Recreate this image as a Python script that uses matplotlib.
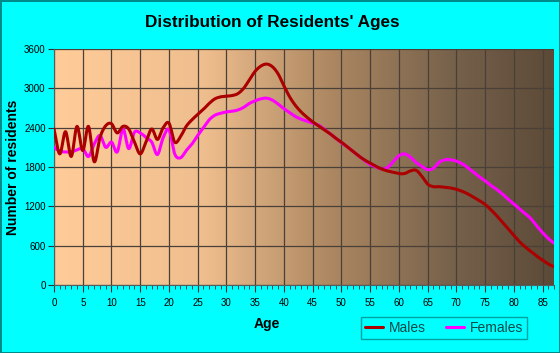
import numpy as np
import matplotlib
matplotlib.use("Agg")
import matplotlib.pyplot as plt
from matplotlib.colors import LinearSegmentedColormap

plt.rcParams["font.family"] = ["Liberation Sans", "DejaVu Sans"]

ages = list(range(0, 88))

males = [2380, 2000, 2340, 1960, 2420, 2050, 2420, 1880, 2250, 2430,
         2460, 2320, 2420, 2380, 2180, 2000, 2180, 2380, 2220, 2400,
         2470, 2180, 2260, 2420, 2520, 2600, 2680, 2770, 2840, 2870,
         2880, 2890, 2920, 3000, 3130, 3260, 3340, 3370, 3330, 3220,
         3040, 2870, 2740, 2640, 2560, 2490, 2430, 2370, 2310, 2240,
         2180, 2110, 2040, 1970, 1910, 1860, 1810, 1770, 1740, 1720,
         1700, 1700, 1740, 1750, 1660, 1540, 1500, 1500, 1490, 1480,
         1460, 1430, 1390, 1340, 1290, 1230, 1150, 1060, 960, 860,
         760, 660, 580, 510, 440, 380, 320, 280]

females = [2100, 2040, 2030, 2030, 2060, 2080, 1960, 2150, 2280, 2100,
           2180, 2030, 2380, 2080, 2330, 2320, 2250, 2180, 1990, 2250,
           2370, 2000, 1940, 2050, 2150, 2280, 2400, 2520, 2590, 2620,
           2640, 2650, 2670, 2710, 2770, 2810, 2840, 2850, 2820, 2760,
           2690, 2630, 2570, 2530, 2500, 2470, 2440, 2380, 2310, 2240,
           2170, 2110, 2040, 1970, 1900, 1840, 1800, 1770, 1790, 1880,
           1970, 2000, 1950, 1870, 1810, 1760, 1780, 1870, 1910, 1910,
           1890, 1850, 1790, 1720, 1650, 1590, 1520, 1460, 1390, 1310,
           1240, 1160, 1090, 1010, 900, 800, 710, 640]

y_ticks = [0, 600, 1200, 1800, 2400, 3000, 3600]
x_ticks = list(range(0, 90, 5))


def smooth(x, y, n=12):
    # catmull-rom curve through the points, for drawing only
    x = np.asarray(x, float)
    y = np.asarray(y, float)
    px = np.concatenate([[2 * x[0] - x[1]], x, [2 * x[-1] - x[-2]]])
    py = np.concatenate([[2 * y[0] - y[1]], y, [2 * y[-1] - y[-2]]])
    t = np.linspace(0, 1, n, endpoint=False)
    xs, ys = [], []
    for i in range(1, len(px) - 2):
        for p, out in ((px, xs), (py, ys)):
            p0, p1, p2, p3 = p[i - 1], p[i], p[i + 1], p[i + 2]
            out.append(0.5 * (2 * p1 + (-p0 + p2) * t
                              + (2 * p0 - 5 * p1 + 4 * p2 - p3) * t ** 2
                              + (-p0 + 3 * p1 - 3 * p2 + p3) * t ** 3))
    xs.append([x[-1]])
    ys.append([y[-1]])
    return np.concatenate(xs), np.concatenate(ys)


fig = plt.figure(figsize=(5.6, 3.53), dpi=100)
fig.patch.set_facecolor("#00FFFF")
fig.patch.set_edgecolor("#008B8B")
fig.patch.set_linewidth(2)

ax = fig.add_axes([54 / 560, 68 / 353, 500 / 560, 236 / 353])

cmap = LinearSegmentedColormap.from_list(
    "bg", [(0, "#FFCC99"), (0.3, "#EFBE8E"), (0.55, "#AD8862"),
           (0.8, "#76614B"), (1.0, "#5C4A38")])
grad = np.linspace(0, 1, 256).reshape(1, -1)
ax.imshow(grad, cmap=cmap, aspect="auto", extent=[0, 1, 0, 1],
          transform=ax.transAxes, zorder=0)

ax.set_xlim(0, 87)
ax.set_ylim(0, 3600)
ax.set_yticks(y_ticks)
ax.set_xticks(x_ticks)
ax.set_xticks(range(0, 88), minor=True)
ax.grid(True, which="major", color="#4A4038", linewidth=0.9, zorder=1)

mx, my = smooth(ages, males)
fx, fy = smooth(ages, females)
ax.plot(fx, fy, color="#FF00FF", lw=2.2, zorder=3, label="Females",
        solid_capstyle="round")
ax.plot(mx, my, color="#AA0000", lw=2.2, zorder=3, label="Males",
        solid_capstyle="round")

for s in ["top", "right"]:
    ax.spines[s].set_visible(False)
ax.spines["left"].set_color("#506060")
ax.spines["bottom"].set_color("#506060")
ax.tick_params(axis="both", which="both", direction="out", color="#303030",
               labelsize=7)
ax.tick_params(axis="x", which="major", length=5, pad=4)
ax.tick_params(axis="x", which="minor", length=3)
ax.tick_params(axis="y", length=4, pad=2)

fig.text(0.487, 0.935, "Distribution of Residents' Ages", ha="center",
         va="center", fontsize=12.3, fontweight="bold")
ax.set_ylabel("Number of residents", fontsize=10, fontweight="bold")
ax.yaxis.set_label_coords(-34 / 500, 0.5)
fig.text(267 / 560, 1 - 324 / 353, "Age", ha="center", va="center",
         fontsize=10, fontweight="bold")

h, l = ax.get_legend_handles_labels()
leg = fig.legend(h[::-1], l[::-1], loc="center", ncol=2,
                 bbox_to_anchor=(444 / 560, 1 - 328 / 353), fontsize=10,
                 frameon=True, fancybox=False, handlelength=1.3,
                 columnspacing=1.5, borderpad=0.3, handletextpad=0.4)
leg.get_frame().set_edgecolor("#008B8B")
leg.get_frame().set_facecolor("#00FFFF")
leg.get_frame().set_linewidth(1)
for t in leg.get_texts():
    t.set_color("#104848")

fig.savefig("out.png", dpi=100, facecolor=fig.get_facecolor(),
            edgecolor=fig.get_edgecolor())
